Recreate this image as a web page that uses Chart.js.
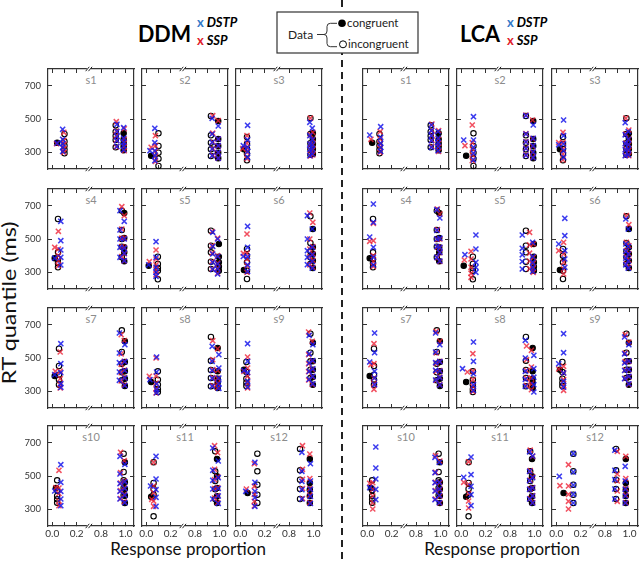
<!DOCTYPE html>
<html>
<head>
<meta charset="utf-8">
<title>DDM / LCA quantile fits</title>
<script src="https://cdn.jsdelivr.net/npm/chart.js@4.4.1/dist/chart.umd.min.js"></script>
<style>
body{margin:0;background:#fff;width:640px;height:563px;position:relative;overflow:hidden;font-family:Lato,"Open Sans",sans-serif}
canvas{position:absolute}
#overlay{position:absolute;left:0;top:0}
</style>
</head>
<body>
<svg id="overlay" width="640" height="563" font-family="Lato, 'Open Sans', sans-serif">
<line x1="342" y1="0" x2="342" y2="563" stroke="#222" stroke-width="2" stroke-dasharray="7 5"/>
<text x="138" y="42" font-size="23" font-weight="bold" textLength="53" lengthAdjust="spacingAndGlyphs" fill="#000">DDM</text>
<text x="197" y="27" font-size="13" font-weight="bold"><tspan fill="#3478c8">x</tspan><tspan fill="#000" font-style="italic"> DSTP</tspan></text>
<text x="197" y="45" font-size="13" font-weight="bold"><tspan fill="#e0202a">x</tspan><tspan fill="#000" font-style="italic"> SSP</tspan></text>
<text x="460" y="42" font-size="23" font-weight="bold" textLength="40" lengthAdjust="spacingAndGlyphs" fill="#000">LCA</text>
<text x="507" y="27" font-size="13" font-weight="bold"><tspan fill="#3478c8">x</tspan><tspan fill="#000" font-style="italic"> DSTP</tspan></text>
<text x="507" y="45" font-size="13" font-weight="bold"><tspan fill="#e0202a">x</tspan><tspan fill="#000" font-style="italic"> SSP</tspan></text>
<rect x="277" y="12" width="141" height="41" fill="#fff" stroke="#333" stroke-width="1.2"/>
<text x="288" y="38.5" font-size="12" fill="#222">Data</text>
<path d="M317,34.5 L324,34.5 Q327,34.5 327,31 L327,26.5 Q327,23.3 330.5,23.3 L337,23.3 M324,34.5 Q327,34.5 327,38 L327,43.5 Q327,46.7 330.5,46.7 L337,46.7" fill="none" stroke="#333" stroke-width="1"/>
<circle cx="342" cy="23.3" r="3.8" fill="#000"/>
<text x="347" y="27.3" font-size="11.5" fill="#222">congruent</text>
<circle cx="343" cy="44.3" r="3.5" fill="#fff" stroke="#000" stroke-width="1"/>
<text x="348" y="48.3" font-size="11.5" fill="#222">incongruent</text>
<text transform="translate(16,303) rotate(-90)" text-anchor="middle" font-size="18.5" textLength="163" lengthAdjust="spacingAndGlyphs" fill="#111">RT quantile (ms)</text>
<text x="188" y="555" text-anchor="middle" font-size="17" fill="#111">Response proportion</text>
<text x="502" y="555" text-anchor="middle" font-size="17" fill="#111">Response proportion</text>
</svg>
<script>

// =============================
// DATA
// =============================

const subjects = ["s1","s2","s3","s4","s5","s6","s7","s8","s9","s10","s11","s12"]

// each row: [error proportion, error RT quantiles, correct proportion, correct RT quantiles]
const dataCong = [
[0.04,[358],0.985,[312,335,355,378,414]],
[0.04,[280],0.99,[264,298,338,380,488]],
[0.03,[318],0.995,[290,320,350,380,414]],
[0.02,[384],0.99,[366,420,450,506,656]],
[0.02,[340],0.995,[310,334,360,394,470]],
[0.03,[314],0.995,[326,370,410,450,560]],
[0.02,[392],0.995,[332,376,420,476,600]],
[0.04,[356],0.985,[320,350,376,420,560]],
[0.03,[430],0.995,[340,386,430,480,592]],
[0.03,[428],0.995,[338,382,422,462,582]],
[0.04,[376],0.98,[338,378,428,498,602]],
[0.06,[398],0.97,[338,380,418,458,602]]
]

const dataIncong = [
[0.10,[294,316,340,365,410],0.92,[330,374,398,424,462]],
[0.10,[218,262,298,338,414],0.93,[278,318,358,402,518]],
[0.055,[252,292,320,350,392],0.975,[285,320,355,410,505]],
[0.047,[330,355,380,420,620],0.97,[390,454,500,554,670]],
[0.095,[258,310,326,350,394],0.93,[320,364,420,460,550]],
[0.055,[260,310,360,400,440],0.975,[350,390,426,476,636]],
[0.055,[340,370,400,452,556],0.97,[366,414,466,536,666]],
[0.095,[296,312,340,370,420],0.93,[330,380,428,484,626]],
[0.05,[332,352,376,416,476],0.975,[380,430,480,532,646]],
[0.04,[340,360,380,415,474],0.985,[384,428,474,524,634]],
[0.06,[258,388,422,458,582],0.965,[362,420,470,528,648]],
[0.14,[338,388,448,528,634],0.89,[362,422,478,534,662]]
]

const ddmDstpCong = [
[0.04,[355],0.985,[315,340,360,385,448]],
[0.03,[310],0.99,[265,300,340,380,458]],
[0.025,[340],0.99,[290,320,345,375,445]],
[0.02,[385],0.99,[370,415,445,500,606]],
[0.02,[345],0.985,[290,320,350,395,500]],
[0.025,[395],0.99,[325,365,405,450,560]],
[0.02,[400],0.995,[335,380,425,478,580]],
[0.03,[370],0.995,[318,345,380,440,520]],
[0.03,[425],0.995,[345,390,435,485,580]],
[0.02,[410],0.995,[340,385,425,465,570]],
[0.035,[440],0.99,[335,380,425,490,590]],
[0.045,[408],0.975,[335,378,420,470,574]]
]

const ddmDstpIncong = [
[0.085,[305,330,352,378,438],0.93,[335,370,395,425,468]],
[0.07,[250,280,310,358,444],0.94,[280,320,360,410,504]],
[0.06,[270,305,330,375,462],0.97,[280,318,350,400,480]],
[0.07,[344,390,434,490,606],0.955,[390,450,500,554,670]],
[0.08,[276,300,330,390,484],0.945,[318,360,410,455,540]],
[0.06,[306,345,394,450,576],0.95,[346,390,430,500,640]],
[0.07,[324,346,412,466,586],0.95,[366,416,472,530,650]],
[0.085,[292,310,344,416,506],0.94,[330,378,425,480,570]],
[0.06,[326,360,412,480,586],0.965,[372,420,470,525,636]],
[0.07,[322,362,408,462,568],0.955,[362,408,454,512,618]],
[0.08,[318,372,418,482,618],0.945,[362,422,474,534,668]],
[0.12,[318,370,408,462,582],0.905,[362,418,468,528,642]]
]

const ddmSspCong = [
[0.035,[352],0.99,[310,335,358,380,442]],
[0.04,[330],0.99,[265,298,338,380,490]],
[0.02,[322],0.995,[285,315,345,378,420]],
[0.02,[450],0.99,[368,412,448,505,640]],
[0.025,[364],0.985,[295,325,355,400,505]],
[0.025,[414],0.995,[330,372,410,455,600]],
[0.025,[420],0.99,[338,382,428,480,605]],
[0.025,[390],0.985,[322,348,378,425,555]],
[0.03,[420],0.99,[342,388,432,482,600]],
[0.03,[430],0.99,[345,388,428,470,592]],
[0.045,[360],0.985,[340,382,430,495,640]],
[0.05,[422],0.97,[340,385,425,485,632]]
]

const ddmSspIncong = [
[0.095,[300,322,345,372,420],0.925,[332,372,400,428,484]],
[0.075,[245,275,305,340,400],0.945,[282,322,362,415,520]],
[0.055,[262,300,325,355,400],0.975,[278,312,348,405,505]],
[0.05,[340,370,400,440,546],0.97,[395,455,505,560,694]],
[0.08,[285,315,345,380,434],0.94,[320,365,415,460,545]],
[0.055,[300,340,380,414,530],0.97,[345,395,440,500,656]],
[0.065,[320,340,376,420,536],0.965,[362,412,462,525,640]],
[0.08,[290,315,350,392,500],0.945,[335,382,430,490,604]],
[0.06,[320,350,390,440,506],0.96,[368,418,465,520,656]],
[0.055,[322,350,395,428,534],0.96,[365,412,458,520,642]],
[0.06,[318,350,400,440,582],0.96,[368,425,478,540,682]],
[0.115,[320,348,390,438,574],0.91,[365,425,480,540,682]]
]

const lcaDstpCong = [
[0.02,[404],0.98,[310,338,358,385,425]],
[0.02,[374],0.99,[268,302,340,384,464]],
[0.02,[345],0.99,[285,318,348,378,425]],
[0.02,[512],0.995,[368,420,450,505,626]],
[0.03,[406],0.985,[305,330,360,395,480]],
[0.02,[470],0.99,[325,368,410,455,560]],
[0.02,[476],0.995,[338,382,422,478,580]],
[0.01,[436],0.995,[296,340,385,436,516]],
[0.02,[465],0.995,[345,390,432,482,580]],
[0.02,[430],0.99,[340,384,422,462,582]],
[0.02,[492],0.985,[338,380,428,490,620]],
[0.025,[498],0.965,[338,380,420,470,558]]
]

const lcaDstpIncong = [
[0.11,[305,330,355,390,454],0.925,[330,370,400,430,464]],
[0.10,[255,295,330,374,514],0.93,[282,322,362,410,520]],
[0.06,[270,310,350,400,494],0.965,[280,315,352,405,478]],
[0.05,[345,390,450,600,710],0.97,[390,455,500,552,676]],
[0.12,[300,330,360,440,524],0.90,[320,365,405,444,524]],
[0.07,[330,380,430,520,624],0.97,[345,385,425,470,620]],
[0.06,[340,380,420,532,650],0.96,[368,426,472,536,650]],
[0.10,[306,340,406,480,596],0.925,[330,372,420,500,606]],
[0.06,[325,360,410,532,646],0.96,[376,425,470,525,626]],
[0.07,[358,420,482,548,674],0.955,[358,410,460,520,612]],
[0.08,[322,388,438,508,614],0.96,[362,420,472,528,645]],
[0.14,[338,390,446,524,634],0.88,[362,422,478,534,655]]
]

const lcaSspCong = [
[0.03,[378],0.985,[305,332,355,380,430]],
[0.03,[340],0.985,[270,300,338,382,494]],
[0.02,[358],0.995,[280,312,345,380,434]],
[0.02,[486],0.995,[365,418,448,500,650]],
[0.025,[374],0.99,[300,325,355,390,470]],
[0.02,[430],0.995,[330,372,412,460,586]],
[0.03,[460],0.995,[340,385,425,480,600]],
[0.05,[416],0.975,[310,345,380,446,546]],
[0.02,[434],0.995,[342,388,430,480,596]],
[0.02,[456],0.995,[338,380,420,460,590]],
[0.02,[462],0.985,[340,382,430,495,618]],
[0.03,[442],0.97,[340,385,425,485,618]]
]

const lcaSspIncong = [
[0.105,[300,325,350,380,424],0.93,[335,372,402,432,470]],
[0.09,[250,285,320,358,464],0.93,[285,325,365,412,524]],
[0.055,[254,290,320,360,420],0.97,[282,318,355,410,505]],
[0.05,[335,365,400,490,594],0.975,[388,452,498,556,680]],
[0.08,[270,294,330,380,426],0.96,[322,368,415,465,540]],
[0.06,[290,320,360,410,480],0.975,[350,392,430,480,640]],
[0.055,[312,345,380,466,586],0.965,[365,420,468,530,660]],
[0.095,[300,330,370,420,526],0.935,[335,378,425,490,572]],
[0.06,[306,335,370,410,450],0.965,[378,428,478,530,640]],
[0.045,[302,340,380,420,460],0.96,[362,412,462,522,622]],
[0.06,[308,350,395,450,585],0.965,[365,422,475,532,655]],
[0.10,[302,348,390,440,568],0.90,[348,410,470,512,648]]
]

const xTickValues = [0.0,0.1,0.2,0.8,0.9,1.0]
const xTickLabelled = [0.0,0.2,0.8,1.0]
const yTickValues = [300,500,700]


// =============================
// LAYOUT
// =============================

const colLeft = [[48,142,236],[363,457,552]]
const rowTop = [69,189,308,426]
const panelW = 86
const panelH = 100

const dstpColor = "rgba(25,25,235,0.85)"
const sspColor = "rgba(238,35,55,0.8)"

Chart.defaults.font.family = "Lato, 'Open Sans', sans-serif"


// =============================
// HELPERS
// =============================

// broken x axis: 0..0.3 and 0.7..1.0 shown side by side
function toAxis(p){
return p < 0.5 ? p : p - 0.4
}

function quantilePoints(row){
const pts = []
row[1].forEach(q => pts.push({x:toAxis(row[0]), y:q}))
row[3].forEach(q => pts.push({x:toAxis(row[2]), y:q}))
return pts
}

const breakMark = {
id:"breakMark",
afterDraw(chart){
const ctx = chart.ctx
const area = chart.chartArea
const px = chart.scales.x.getPixelForValue(0.3)
const edges = [area.top, area.bottom]
ctx.save()
edges.forEach(py => {
ctx.fillStyle = "#fff"
ctx.fillRect(px-2, py-1.5, 4, 3)
ctx.strokeStyle = "#222"
ctx.lineWidth = 1
;[-1.4,1.4].forEach(dx => {
ctx.beginPath()
ctx.moveTo(px+dx-1.8, py+2.2)
ctx.lineTo(px+dx+1.8, py-2.2)
ctx.stroke()
})
})
ctx.restore()
}
}

function xScale(position, showLabels, height){
return {
type:"linear", axis:"x", position, min:-0.035, max:0.67,
afterBuildTicks: s => { s.ticks = xTickValues.map(v => ({value:toAxis(v)})) },
afterFit: s => { s.height = height },
grid:{drawOnChartArea:false, drawTicks:true, tickLength:-4, color:"#333", lineWidth:1},
border:{display:true, color:"#333", width:1.2},
ticks:{
display:showLabels, autoSkip:false, maxRotation:0, padding:6, color:"#333",
font:{size:10},
callback:(v,i) => xTickLabelled.includes(xTickValues[i]) ? xTickValues[i].toFixed(1) : ""
}
}
}

function yScale(position, showLabels, width){
return {
type:"linear", axis:"y", position, min:200, max:800,
afterBuildTicks: s => { s.ticks = yTickValues.map(v => ({value:v})) },
afterFit: s => { s.width = width },
grid:{drawOnChartArea:false, drawTicks:true, tickLength:-4, color:"#333", lineWidth:1},
border:{display:true, color:"#333", width:1.2},
ticks:{display:showLabels, padding:11, color:"#333", font:{size:9.5}}
}
}


// =============================
// PANELS
// =============================

function makePanel(half, i, model){

const row = Math.floor(i/3)
const col = i%3
const firstCol = half===0 && col===0
const lastRow = row===3
// margins wide enough that chart.js never pads the plot area itself
const ml = firstCol ? 48 : 16
const mr = 16
const mt = 18
const mb = 20
const left = colLeft[half][col]
const top = rowTop[row]

const cv = document.createElement("canvas")
cv.width = panelW+ml+mr
cv.height = panelH+mt+mb
cv.style.left = (left-ml)+"px"
cv.style.top = (top-mt)+"px"
document.body.appendChild(cv)

new Chart(cv,{
type:"scatter",
data:{
datasets:[
{
label:"DSTP",
data:quantilePoints(model.dstpCong[i]).concat(quantilePoints(model.dstpIncong[i])),
pointStyle:"crossRot", pointRadius:3.6, pointBorderWidth:1.5,
pointBorderColor:dstpColor, pointBackgroundColor:dstpColor
},
{
label:"SSP",
data:quantilePoints(model.sspCong[i]).concat(quantilePoints(model.sspIncong[i])),
pointStyle:"crossRot", pointRadius:3.6, pointBorderWidth:1.5,
pointBorderColor:sspColor, pointBackgroundColor:sspColor
},
{
label:"congruent",
data:quantilePoints(dataCong[i]),
pointStyle:"circle", pointRadius:2.7, pointBorderWidth:1.1,
pointBorderColor:"#000", pointBackgroundColor:"#000"
},
{
label:"incongruent",
data:quantilePoints(dataIncong[i]),
pointStyle:"circle", pointRadius:2.7, pointBorderWidth:1.1,
pointBorderColor:"#000", pointBackgroundColor:"rgba(0,0,0,0)"
}
]
},
options:{
responsive:false,
animation:false,
events:[],
layout:{padding:{left:0, right:mr, top:mt, bottom:0}},
plugins:{legend:{display:false}, tooltip:{enabled:false}},
scales:{
x:xScale("bottom", lastRow, mb),
x2:xScale("top", false, 0),
y:yScale("left", firstCol, ml),
y2:yScale("right", false, 0)
}
},
plugins:[breakMark]
})

// panel name
const svg = document.getElementById("overlay")
const t = document.createElementNS("http://www.w3.org/2000/svg","text")
t.setAttribute("x", left+panelW/2)
t.setAttribute("y", top+15)
t.setAttribute("text-anchor","middle")
t.setAttribute("font-size","11")
t.setAttribute("fill","#8c8c8c")
t.textContent = subjects[i]
svg.appendChild(t)

}

const models = [
{dstpCong:ddmDstpCong, dstpIncong:ddmDstpIncong, sspCong:ddmSspCong, sspIncong:ddmSspIncong},
{dstpCong:lcaDstpCong, dstpIncong:lcaDstpIncong, sspCong:lcaSspCong, sspIncong:lcaSspIncong}
]

models.forEach((m,h) => subjects.forEach((name,i) => makePanel(h,i,m)))

</script>
</body>
</html>
